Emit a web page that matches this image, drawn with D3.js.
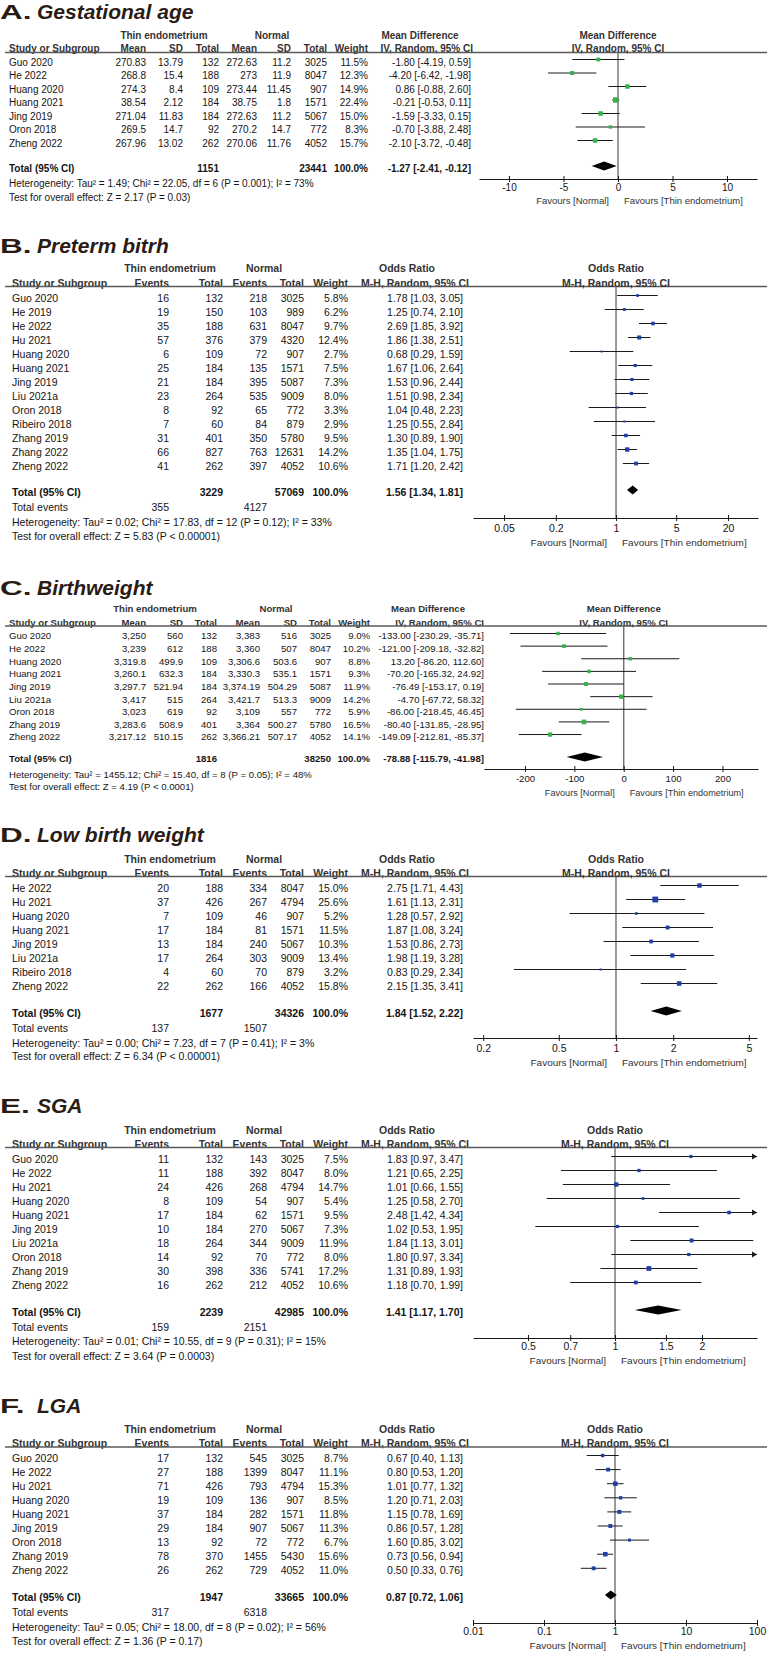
<!DOCTYPE html>
<html><head><meta charset="utf-8">
<script src="https://cdn.jsdelivr.net/npm/d3@7"></script>
<style>
body{margin:0;background:#fff}
svg{display:block}
text{font-family:"Liberation Sans",Arial,Helvetica,sans-serif}
</style>
</head><body>
<svg id="c" width="768" height="1653"></svg>
<script>
// ---------------- DATA ----------------
// A. Gestational age
const tableA = [
 ["Guo 2020","270.83","13.79","132","272.63","11.2","3025","11.5%"],
 ["He 2022","268.8","15.4","188","273","11.9","8047","12.3%"],
 ["Huang 2020","274.3","8.4","109","273.44","11.45","907","14.9%"],
 ["Huang 2021","38.54","2.12","184","38.75","1.8","1571","22.4%"],
 ["Jing 2019","271.04","11.83","184","272.63","11.2","5067","15.0%"],
 ["Oron 2018","269.5","14.7","92","270.2","14.7","772","8.3%"],
 ["Zheng 2022","267.96","13.02","262","270.06","11.76","4052","15.7%"]
];
const effectA = [[-1.80,-4.19,0.59],[-4.20,-6.42,-1.98],[0.86,-0.88,2.60],[-0.21,-0.53,0.11],[-1.59,-3.33,0.15],[-0.70,-3.88,2.48],[-2.10,-3.72,-0.48]];
const totalA = ["Total (95% CI)","","","1151","","","23441","100.0%"];
const pooledA = [-1.27,-2.41,-0.12];
const hetA = "Heterogeneity: Tau² = 1.49; Chi² = 22.05, df = 6 (P = 0.001); I² = 73%";
const testA = "Test for overall effect: Z = 2.17 (P = 0.03)";
const ticksA = [-10,-5,0,5,10];

// B. Preterm birth
const tableB = [
 ["Guo 2020","16","132","218","3025","5.8%"],
 ["He 2019","19","150","103","989","6.2%"],
 ["He 2022","35","188","631","8047","9.7%"],
 ["Hu 2021","57","376","379","4320","12.4%"],
 ["Huang 2020","6","109","72","907","2.7%"],
 ["Huang 2021","25","184","135","1571","7.5%"],
 ["Jing 2019","21","184","395","5087","7.3%"],
 ["Liu 2021a","23","264","535","9009","8.0%"],
 ["Oron 2018","8","92","65","772","3.3%"],
 ["Ribeiro 2018","7","60","84","879","2.9%"],
 ["Zhang 2019","31","401","350","5780","9.5%"],
 ["Zhang 2022","66","827","763","12631","14.2%"],
 ["Zheng 2022","41","262","397","4052","10.6%"]
];
const effectB = [[1.78,1.03,3.05],[1.25,0.74,2.10],[2.69,1.85,3.92],[1.86,1.38,2.51],[0.68,0.29,1.59],[1.67,1.06,2.64],[1.53,0.96,2.44],[1.51,0.98,2.34],[1.04,0.48,2.23],[1.25,0.55,2.84],[1.30,0.89,1.90],[1.35,1.04,1.75],[1.71,1.20,2.42]];
const totalB = ["Total (95% CI)","","3229","","57069","100.0%"];
const pooledB = [1.56,1.34,1.81];
const eventsB = ["Total events","355","","4127"];
const hetB = "Heterogeneity: Tau² = 0.02; Chi² = 17.83, df = 12 (P = 0.12); I² = 33%";
const testB = "Test for overall effect: Z = 5.83 (P < 0.00001)";
const ticksB = [0.05,0.2,1,5,20];

// C. Birthweight
const tableC = [
 ["Guo 2020","3,250","560","132","3,383","516","3025","9.0%"],
 ["He 2022","3,239","612","188","3,360","507","8047","10.2%"],
 ["Huang 2020","3,319.8","499.9","109","3,306.6","503.6","907","8.8%"],
 ["Huang 2021","3,260.1","632.3","184","3,330.3","535.1","1571","9.3%"],
 ["Jing 2019","3,297.7","521.94","184","3,374.19","504.29","5087","11.9%"],
 ["Liu 2021a","3,417","515","264","3,421.7","513.3","9009","14.2%"],
 ["Oron 2018","3,023","619","92","3,109","557","772","5.9%"],
 ["Zhang 2019","3,283.6","508.9","401","3,364","500.27","5780","16.5%"],
 ["Zheng 2022","3,217.12","510.15","262","3,366.21","507.17","4052","14.1%"]
];
const effectC = [[-133.00,-230.29,-35.71],[-121.00,-209.18,-32.82],[13.20,-86.20,112.60],[-70.20,-165.32,24.92],[-76.49,-153.17,0.19],[-4.70,-67.72,58.32],[-86.00,-218.45,46.45],[-80.40,-131.85,-28.95],[-149.09,-212.81,-85.37]];
const totalC = ["Total (95% CI)","","","1816","","","38250","100.0%"];
const pooledC = [-78.88,-115.79,-41.98];
const hetC = "Heterogeneity: Tau² = 1455.12; Chi² = 15.40, df = 8 (P = 0.05); I² = 48%";
const testC = "Test for overall effect: Z = 4.19 (P < 0.0001)";
const ticksC = [-200,-100,0,100,200];

// D. Low birth weight
const tableD = [
 ["He 2022","20","188","334","8047","15.0%"],
 ["Hu 2021","37","426","267","4794","25.6%"],
 ["Huang 2020","7","109","46","907","5.2%"],
 ["Huang 2021","17","184","81","1571","11.5%"],
 ["Jing 2019","13","184","240","5067","10.3%"],
 ["Liu 2021a","17","264","303","9009","13.4%"],
 ["Ribeiro 2018","4","60","70","879","3.2%"],
 ["Zheng 2022","22","262","166","4052","15.8%"]
];
const effectD = [[2.75,1.71,4.43],[1.61,1.13,2.31],[1.28,0.57,2.92],[1.87,1.08,3.24],[1.53,0.86,2.73],[1.98,1.19,3.28],[0.83,0.29,2.34],[2.15,1.35,3.41]];
const totalD = ["Total (95% CI)","","1677","","34326","100.0%"];
const pooledD = [1.84,1.52,2.22];
const eventsD = ["Total events","137","","1507"];
const hetD = "Heterogeneity: Tau² = 0.00; Chi² = 7.23, df = 7 (P = 0.41); I² = 3%";
const testD = "Test for overall effect: Z = 6.34 (P < 0.00001)";
const ticksD = [0.2,0.5,1,2,5];

// E. SGA
const tableE = [
 ["Guo 2020","11","132","143","3025","7.5%"],
 ["He 2022","11","188","392","8047","8.0%"],
 ["Hu 2021","24","426","268","4794","14.7%"],
 ["Huang 2020","8","109","54","907","5.4%"],
 ["Huang 2021","17","184","62","1571","9.5%"],
 ["Jing 2019","10","184","270","5067","7.3%"],
 ["Liu 2021a","18","264","344","9009","11.9%"],
 ["Oron 2018","14","92","70","772","8.0%"],
 ["Zhang 2019","30","398","336","5741","17.2%"],
 ["Zheng 2022","16","262","212","4052","10.6%"]
];
const effectE = [[1.83,0.97,3.47],[1.21,0.65,2.25],[1.01,0.66,1.55],[1.25,0.58,2.70],[2.48,1.42,4.34],[1.02,0.53,1.95],[1.84,1.13,3.01],[1.80,0.97,3.34],[1.31,0.89,1.93],[1.18,0.70,1.99]];
const totalE = ["Total (95% CI)","","2239","","42985","100.0%"];
const pooledE = [1.41,1.17,1.70];
const eventsE = ["Total events","159","","2151"];
const hetE = "Heterogeneity: Tau² = 0.01; Chi² = 10.55, df = 9 (P = 0.31); I² = 15%";
const testE = "Test for overall effect: Z = 3.64 (P = 0.0003)";
const ticksE = [0.5,0.7,1,1.5,2];

// F. LGA
const tableF = [
 ["Guo 2020","17","132","545","3025","8.7%"],
 ["He 2022","27","188","1399","8047","11.1%"],
 ["Hu 2021","71","426","793","4794","15.3%"],
 ["Huang 2020","19","109","136","907","8.5%"],
 ["Huang 2021","37","184","282","1571","11.8%"],
 ["Jing 2019","29","184","907","5067","11.3%"],
 ["Oron 2018","13","92","72","772","6.7%"],
 ["Zhang 2019","78","370","1455","5430","15.6%"],
 ["Zheng 2022","26","262","729","4052","11.0%"]
];
const effectF = [[0.67,0.40,1.13],[0.80,0.53,1.20],[1.01,0.77,1.32],[1.20,0.71,2.03],[1.15,0.78,1.69],[0.86,0.57,1.28],[1.60,0.85,3.02],[0.73,0.56,0.94],[0.50,0.33,0.76]];
const totalF = ["Total (95% CI)","","1947","","33665","100.0%"];
const pooledF = [0.87,0.72,1.06];
const eventsF = ["Total events","317","","6318"];
const hetF = "Heterogeneity: Tau² = 0.05; Chi² = 18.00, df = 8 (P = 0.02); I² = 56%";
const testF = "Test for overall effect: Z = 1.36 (P = 0.17)";
const ticksF = [0.01,0.1,1,10,100];

const headCont1 = ["Thin endometrium","Normal","Mean Difference"];
const headCont2 = ["Study or Subgroup","Mean","SD","Total","Mean","SD","Total","Weight","IV, Random, 95% CI"];
const headBin1 = ["Thin endometrium","Normal","Odds Ratio"];
const headBin2 = ["Study or Subgroup","Events","Total","Events","Total","Weight","M-H, Random, 95% CI"];

// ---------------- LAYOUT ----------------
const GREEN = "#34b34a", BLUE = "#1f3fa6", TITLE = "#2a1b14";
const colsBin = [12,169,223,267,304,348,463];
const head2Bin = [12,169,223,267,304,348,469];
const head1Bin = [170,264,407];

const svg = d3.select("#c");
const fmt2 = v => v.toFixed(2);

function drawPanel(P){
  const g = svg.append("g");
  const fs = P.fs;
  const T = (x,y,txt,o={}) => g.append("text").attr("x",x).attr("y",y).attr("dy","0.35em")
    .attr("text-anchor",o.a||"start").attr("font-size",o.fs||fs)
    .attr("font-weight",o.b?"bold":"normal").attr("fill",o.c||"#151515").text(txt);

  // title
  g.append("text").attr("transform",`translate(0,${P.titleY}) scale(1.5,1)`)
    .attr("font-size",21).attr("font-weight","bold").attr("fill",TITLE).text(P.letter);
  g.append("text").attr("x",37).attr("y",P.titleY)
    .attr("font-size",21).attr("font-weight","bold").attr("font-style","italic").attr("fill",TITLE).text(P.title);

  // headers
  P.head1.forEach((h,i)=>T(P.head1X[i],P.h1,h,{a:"middle",b:true,c:"#333"}));
  P.head2.forEach((h,i)=>T(P.head2X[i],P.h2,h,{a:i===0?"start":"end",b:true,c:"#333"}));
  g.append("line").attr("x1",5).attr("x2",767).attr("y1",P.ul).attr("y2",P.ul)
    .attr("stroke","#5a5a5a").attr("stroke-width",1.6);

  // scale
  const x = (P.log?d3.scaleLog():d3.scaleLinear()).domain(P.domain).range(P.range);
  const x0 = x(P.ref);
  T(x0,P.h1,P.head1[2],{a:"middle",b:true,c:"#333"});
  T(x0,P.h2,P.head2[P.head2.length-1],{a:"middle",b:true,c:"#333"});

  // zero line
  g.append("line").attr("x1",x0).attr("x2",x0).attr("y1",P.ul).attr("y2",P.axisY)
    .attr("stroke","#707070").attr("stroke-width",1.4);

  const ciX = P.colX[P.colX.length-1];
  const [dMin,dMax] = P.domain;
  P.rows.forEach((r,i)=>{
    const y = P.row0 + i*P.step;
    r.forEach((v,j)=>T(P.colX[j],y,v,{a:j===0?"start":"end"}));
    const e = P.effects[i];
    T(ciX,y,`${fmt2(e[0])} [${fmt2(e[1])}, ${fmt2(e[2])}]`,{a:"end"});
    const ym = y - 2.5;
    const lo = Math.max(e[1],dMin), hi = Math.min(e[2],dMax);
    g.append("line").attr("x1",x(lo)).attr("x2",x(hi)).attr("y1",ym).attr("y2",ym)
      .attr("stroke","#1a1a1a").attr("stroke-width",1);
    if(e[2]>dMax){
      const xe = x(dMax);
      g.append("path").attr("d",`M${xe},${ym}L${xe-5},${ym-3}L${xe-5},${ym+3}Z`).attr("fill","#1a1a1a");
    }
    if(e[1]<dMin){
      const xs = x(dMin);
      g.append("path").attr("d",`M${xs},${ym}L${xs+5},${ym-3}L${xs+5},${ym+3}Z`).attr("fill","#1a1a1a");
    }
    const w = parseFloat(r[r.length-1]);
    const s = Math.max(2, 1.15*Math.sqrt(w));
    g.append("rect").attr("x",x(e[0])-s/2).attr("y",ym-s/2).attr("width",s).attr("height",s).attr("fill",P.color);
  });

  // total row
  P.total.forEach((v,j)=>{ if(v) T(P.colX[j],P.totalY,v,{a:j===0?"start":"end",b:true}); });
  const pe = P.pooled;
  T(ciX,P.totalY,`${fmt2(pe[0])} [${fmt2(pe[1])}, ${fmt2(pe[2])}]`,{a:"end",b:true});
  const yd = P.totalY - 2;
  g.append("path").attr("d",`M${x(pe[1])},${yd}L${x(pe[0])},${yd-4.5}L${x(pe[2])},${yd}L${x(pe[0])},${yd+4.5}Z`).attr("fill","#000");

  if(P.events){
    P.events.forEach((v,j)=>{ if(v) T(P.colX[j],P.evY,v,{a:j===0?"start":"end"}); });
  }
  T(P.colX[0],P.hetY,P.het);
  T(P.colX[0],P.testY,P.test);

  // axis
  const ax = g.append("g").attr("transform",`translate(0,${P.axisY})`)
    .call(d3.axisBottom(x).tickValues(P.ticks).tickFormat(d=>String(d)).tickSize(3).tickSizeOuter(0).tickPadding(P.tickPad||3));
  ax.select(".domain").attr("stroke","#1a1a1a");
  ax.selectAll(".tick line").attr("y1",-3).attr("y2",3).attr("stroke","#1a1a1a");
  ax.selectAll(".tick text").attr("font-size",fs).attr("fill","#151515")
    .attr("font-family",'"Liberation Sans",Arial,sans-serif');

  T(x0-9,P.favY,"Favours [Normal]",{a:"end",fs:fs*0.95,c:"#333"});
  T(x0+6,P.favY,"Favours [Thin endometrium]",{a:"start",fs:fs*0.95,c:"#333"});
}

drawPanel({letter:"A.",title:"Gestational age",titleY:19,fs:10,
  head1:headCont1,head1X:[164,272,420],head2:headCont2,head2X:[9,146,183,219,257,291,327,368,473],
  colX:[9,146,183,219,257,291,327,368,471],
  h1:35,h2:48,ul:52.5,row0:62,step:13.5,totalY:168,hetY:183,testY:197,axisY:179,favY:201,tickPad:2,
  rows:tableA,effects:effectA,total:totalA,pooled:pooledA,het:hetA,test:testA,
  log:false,domain:[-12.75,12.75],range:[479,757],ref:0,ticks:ticksA,color:GREEN});

drawPanel({letter:"B.",title:"Preterm bitrh",titleY:253,fs:10.5,
  head1:headBin1,head1X:head1Bin,head2:headBin2,head2X:head2Bin,colX:colsBin,
  h1:268,h2:283,ul:286.5,row0:298,step:14,totalY:492,evY:507,hetY:522,testY:536,axisY:518,favY:543,tickPad:4,
  rows:tableB,effects:effectB,total:totalB,pooled:pooledB,events:eventsB,het:hetB,test:testB,
  log:true,domain:[0.0218,44.6],range:[473,758],ref:1,ticks:ticksB,color:BLUE});

drawPanel({letter:"C.",title:"Birthweight",titleY:595,fs:9.6,
  head1:headCont1,head1X:[155,276,428],head2:headCont2,head2X:[9,146,183,217,260,297,331,370,484],
  colX:[9,146,183,217,260,297,331,370,484],
  h1:609,h2:623,ul:626,row0:636,step:12.63,totalY:759,hetY:775,testY:787,axisY:769,favY:793,tickPad:3,
  rows:tableC,effects:effectC,total:totalC,pooled:pooledC,het:hetC,test:testC,
  log:false,domain:[-283,272],range:[484,758],ref:0,ticks:ticksC,color:GREEN});

drawPanel({letter:"D.",title:"Low birth weight",titleY:842,fs:10.5,
  head1:headBin1,head1X:head1Bin,head2:headBin2,head2X:head2Bin,colX:colsBin,
  h1:859,h2:873,ul:876.5,row0:888,step:14,totalY:1013,evY:1028,hetY:1043,testY:1056,axisY:1038,favY:1063,tickPad:4,
  rows:tableD,effects:effectD,total:totalD,pooled:pooledD,events:eventsD,het:hetD,test:testD,
  log:true,domain:[0.1768,5.522],range:[473,757],ref:1,ticks:ticksD,color:BLUE});

drawPanel({letter:"E.",title:"SGA",titleY:1113,fs:10.5,
  head1:headBin1,head1X:head1Bin,head2:headBin2,head2X:head2Bin,colX:colsBin,
  h1:1130,h2:1144,ul:1147.5,row0:1159,step:14,totalY:1312,evY:1327,hetY:1341,testY:1356,axisY:1338,favY:1361,tickPad:2,
  rows:tableE,effects:effectE,total:totalE,pooled:pooledE,events:eventsE,het:hetE,test:testE,
  log:true,domain:[0.3226,3.099],range:[473,757],ref:1,ticks:ticksE,color:BLUE});

drawPanel({letter:"F.",title:"LGA",titleY:1413,fs:10.5,
  head1:headBin1,head1X:head1Bin,head2:headBin2,head2X:head2Bin,colX:colsBin,
  h1:1429,h2:1443,ul:1447,row0:1458,step:14.1,totalY:1597,evY:1612,hetY:1627,testY:1641,axisY:1623,favY:1646,tickPad:2,
  rows:tableF,effects:effectF,total:totalF,pooled:pooledF,events:eventsF,het:hetF,test:testF,
  log:true,domain:[0.01,100],range:[473,757],ref:1,ticks:ticksF,color:BLUE});
</script>
</body></html>
